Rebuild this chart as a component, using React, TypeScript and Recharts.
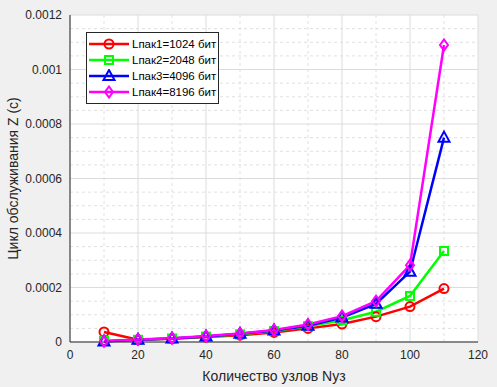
import React from "react";
import {
  LineChart,
  Line,
  XAxis,
  YAxis,
  CartesianGrid,
  ReferenceLine,
  Label,
} from "recharts";

const nodes = [10, 20, 30, 40, 50, 60, 70, 80, 90, 100, 110];
const lpak1 = [0.000037, 0.000008, 0.000012, 0.000018, 0.000025, 0.000035, 0.00005, 0.000066, 0.000093, 0.00013, 0.000196];
const lpak2 = [0.000005, 0.000008, 0.000013, 0.00002, 0.000028, 0.00004, 0.000058, 0.00008, 0.000111, 0.000169, 0.000334];
const lpak3 = [0.000002, 0.000008, 0.000013, 0.00002, 0.00003, 0.000042, 0.00006, 0.00009, 0.00014, 0.000258, 0.00075];
const lpak4 = [0.000003, 0.000009, 0.000014, 0.000022, 0.000031, 0.000044, 0.000064, 0.000095, 0.00015, 0.000282, 0.00109];

const xTicks = [0, 20, 40, 60, 80, 100, 120];
const yTicks = [0, 0.0002, 0.0004, 0.0006, 0.0008, 0.001, 0.0012];
const xMinor = [10, 30, 50, 70, 90, 110];
const yMinor = [
  0.00005, 0.0001, 0.00015, 0.00025, 0.0003, 0.00035, 0.00045, 0.0005, 0.00055,
  0.00065, 0.0007, 0.00075, 0.00085, 0.0009, 0.00095, 0.00105, 0.0011, 0.00115,
];

const series = [
  { key: "p1", name: "Lпак1=1024 бит", color: "#ff0000", marker: "circle", values: lpak1 },
  { key: "p2", name: "Lпак2=2048 бит", color: "#00ff00", marker: "square", values: lpak2 },
  { key: "p3", name: "Lпак3=4096 бит", color: "#0000ff", marker: "triangle", values: lpak3 },
  { key: "p4", name: "Lпак4=8196 бит", color: "#ff00ff", marker: "diamond", values: lpak4 },
];

const data = nodes.map((n, i) => {
  const row: Record<string, number> = { n };
  series.forEach((s) => {
    row[s.key] = s.values[i];
  });
  return row;
});

const FONT = "'Liberation Sans', Arial, sans-serif";

const Marker = ({ cx, cy, kind, color }: any) => {
  if (cx == null || cy == null) return null;
  const common = { fill: "none", stroke: color, strokeWidth: 2 };
  if (kind === "circle") return <circle cx={cx} cy={cy} r={4.5} {...common} />;
  if (kind === "square")
    return <rect x={cx - 4} y={cy - 4} width={8} height={8} {...common} />;
  if (kind === "triangle")
    return (
      <polygon
        points={`${cx},${cy - 6} ${cx + 5.5},${cy + 4} ${cx - 5.5},${cy + 4}`}
        {...common}
      />
    );
  return (
    <polygon
      points={`${cx},${cy - 5.5} ${cx + 4},${cy} ${cx},${cy + 5.5} ${cx - 4},${cy}`}
      {...common}
    />
  );
};

// legend drawn as an overlay so it doesn't steal plot space
const LegendBox = () => (
  <div
    style={{
      position: "absolute",
      left: 86,
      top: 32,
      boxSizing: "border-box",
      width: 133,
      height: 72,
      background: "#fff",
      border: "1px solid #262626",
      padding: "3px 0 0 1px",
      fontFamily: FONT,
      fontSize: 11.5,
      color: "#000",
      whiteSpace: "nowrap",
    }}
  >
    {series.map((s) => (
      <div key={s.key} style={{ display: "flex", alignItems: "center", height: 16 }}>
        <svg width={42} height={14}>
          <line x1={1} y1={7} x2={41} y2={7} stroke={s.color} strokeWidth={2.5} />
          <Marker cx={21} cy={7} kind={s.marker} color={s.color} />
        </svg>
        <span style={{ marginLeft: 2 }}>{s.name}</span>
      </div>
    ))}
  </div>
);

const App = () => {
  return (
    <div
      style={{
        position: "absolute",
        left: 0,
        top: 0,
        width: 497,
        height: 387,
        background: "#f0f0f0",
      }}
    >
      <LineChart
        width={497}
        height={387}
        data={data}
        margin={{ top: 15, right: 19, bottom: 15, left: 10 }}
      >
        <CartesianGrid stroke="#dcdcdc" fill="#ffffff" />
        {xMinor.map((v) => (
          <ReferenceLine key={"x" + v} x={v} stroke="#e0e0e0" strokeDasharray="3 3" />
        ))}
        {yMinor.map((v) => (
          <ReferenceLine key={"y" + v} y={v} stroke="#e0e0e0" strokeDasharray="3 3" />
        ))}
        <XAxis
          dataKey="n"
          type="number"
          domain={[0, 120]}
          ticks={xTicks}
          height={30}
          stroke="#262626"
          tickLine={false}
          tick={{ fill: "#262626", fontSize: 12, fontFamily: FONT }}
        >
          <Label
            content={({ viewBox }: any) => (
              <text
                x={viewBox.x + viewBox.width / 2}
                y={viewBox.y + 34}
                textAnchor="middle"
                dominantBaseline="central"
                fontSize={14}
                fontFamily={FONT}
                fill="#262626"
              >
                Количество узлов Nуз
              </text>
            )}
          />
        </XAxis>
        <XAxis
          xAxisId="top"
          orientation="top"
          dataKey="n"
          type="number"
          domain={[0, 120]}
          height={0}
          tick={false}
          tickLine={false}
          stroke="#262626"
        />
        <YAxis
          type="number"
          domain={[0, 0.0012]}
          ticks={yTicks}
          width={60}
          stroke="#262626"
          tickLine={false}
          tick={{ fill: "#262626", fontSize: 12, fontFamily: FONT }}
        >
          <Label
            content={({ viewBox }: any) => (
              <text
                x={viewBox.x + 3}
                y={viewBox.y + viewBox.height / 2}
                transform={`rotate(-90, ${viewBox.x + 3}, ${viewBox.y + viewBox.height / 2})`}
                textAnchor="middle"
                dominantBaseline="central"
                fontSize={14}
                fontFamily={FONT}
                fill="#262626"
              >
                Цикл обслуживания Z (c)
              </text>
            )}
          />
        </YAxis>
        <YAxis
          yAxisId="right"
          orientation="right"
          domain={[0, 0.0012]}
          width={0}
          tick={false}
          tickLine={false}
          stroke="#262626"
        />
        {series.map((s) => (
          <Line
            key={s.key}
            dataKey={s.key}
            name={s.name}
            stroke={s.color}
            strokeWidth={2.5}
            isAnimationActive={false}
            dot={(p: any) => (
              <Marker key={s.key + p.index} cx={p.cx} cy={p.cy} kind={s.marker} color={s.color} />
            )}
            activeDot={false}
          />
        ))}
      </LineChart>
      <LegendBox />
    </div>
  );
};

export default App;
